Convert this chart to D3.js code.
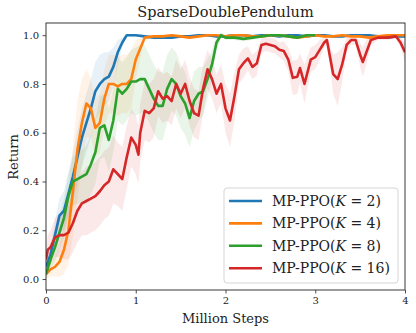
<!DOCTYPE html>
<html>
<head>
<meta charset="utf-8">
<script src="https://cdn.jsdelivr.net/npm/d3@7"></script>
<style>
  body { margin: 0; background: #fff; }
  svg text { font-family: "DejaVu Serif", "Liberation Serif", serif; }
</style>
</head>
<body>
<div id="chart"></div>
<script>
// Data (million steps -> return, band half-width)
var seriesNames = ["2", "4", "8", "16"];
var seriesColors = ["#1f77b4", "#ff7f0e", "#2ca02c", "#d62728"];

var blueX = [0,0.05,0.1,0.15,0.2,0.25,0.3,0.35,0.4,0.45,0.5,0.55,0.6,0.65,0.7,0.75,0.8,0.85,0.9,0.95,1.0,
  1.1,1.2,1.3,1.4,1.5,1.6,1.7,1.8,1.9,2.0,2.1,2.2,2.3,2.4,2.5,2.6,2.7,2.8,2.9,3.0,
  3.1,3.2,3.3,3.4,3.5,3.6,3.7,3.8,3.9,4.0];
var blueY = [0.05,0.10,0.18,0.26,0.28,0.35,0.42,0.50,0.58,0.64,0.70,0.77,0.80,0.82,0.83,0.87,0.93,0.97,1.0,1.0,1.0,
  0.995,0.99,0.99,0.99,0.995,0.995,1.0,1.0,0.995,0.995,
  1.0,1.0,0.995,1.0,1.0,0.995,1.0,1.0,0.995,1.0,
  1.0,0.995,0.995,1.0,1.0,1.0,0.995,0.99,0.995,0.995];
var blueS = [0.02,0.04,0.06,0.07,0.08,0.09,0.1,0.11,0.12,0.12,0.12,0.12,0.12,0.11,0.1,0.08,0.05,0.02,0.005,0.005,0.005,
  0.005,0.005,0.005,0.005,0.005,0.005,0.005,0.005,0.005,0.005,
  0.005,0.005,0.005,0.005,0.005,0.005,0.005,0.005,0.005,0.005,
  0.005,0.005,0.005,0.005,0.005,0.005,0.005,0.005,0.005,0.005];

var orangeX = blueX;
var orangeY = [0.02,0.04,0.05,0.07,0.12,0.20,0.36,0.53,0.64,0.72,0.70,0.62,0.64,0.74,0.80,0.80,0.79,0.80,0.80,0.82,0.90,
  0.99,0.995,0.995,1.0,0.995,0.99,0.995,1.0,1.0,0.995,
  1.0,1.0,0.995,0.995,1.0,1.0,0.995,0.99,0.995,1.0,
  0.995,0.995,1.0,0.995,0.995,0.99,0.995,1.0,1.0,1.0];
var orangeS = [0.02,0.03,0.04,0.06,0.1,0.14,0.18,0.2,0.18,0.14,0.12,0.12,0.12,0.12,0.12,0.12,0.12,0.12,0.12,0.12,0.08,
  0.005,0.005,0.005,0.005,0.005,0.005,0.005,0.005,0.005,0.005,
  0.005,0.005,0.005,0.005,0.005,0.005,0.005,0.005,0.005,0.005,
  0.005,0.005,0.005,0.005,0.005,0.005,0.005,0.005,0.005,0.005];

var greenX = [0,0.05,0.1,0.15,0.2,0.25,0.3,0.35,0.4,0.45,0.5,0.55,0.6,0.65,0.7,0.75,0.8,0.85,0.9,0.95,
  1.0,1.05,1.1,1.15,1.2,1.25,1.3,1.35,1.4,1.45,1.5,1.55,1.6,1.65,1.7,1.75,1.8,1.85,1.9,1.95,
  2.0,2.1,2.2,2.3,2.4,2.5,2.6,2.7,2.8,2.9,3.0];
var greenY = [0.02,0.08,0.13,0.19,0.25,0.34,0.40,0.41,0.42,0.43,0.47,0.52,0.62,0.63,0.57,0.65,0.78,0.76,0.78,0.81,
  0.81,0.82,0.82,0.78,0.74,0.71,0.71,0.78,0.82,0.80,0.75,0.72,0.66,0.73,0.76,0.77,0.82,0.88,0.97,1.0,
  0.99,0.99,0.985,0.99,0.995,1.0,1.0,0.995,0.99,1.0,1.0];
var greenS = [0.02,0.04,0.06,0.07,0.08,0.09,0.1,0.1,0.11,0.12,0.12,0.13,0.13,0.13,0.13,0.13,0.13,0.13,0.13,0.13,
  0.14,0.14,0.14,0.14,0.14,0.14,0.14,0.14,0.13,0.13,0.13,0.13,0.12,0.12,0.11,0.1,0.08,0.06,0.03,0.01,
  0.01,0.01,0.01,0.01,0.005,0.005,0.005,0.005,0.005,0.005,0.005];

var redX = [0,0.02,0.05,0.1,0.15,0.2,0.25,0.3,0.35,0.4,0.45,0.5,0.55,0.6,0.65,0.7,0.75,0.8,0.85,0.9,
  0.95,1.0,1.03,1.05,1.1,1.15,1.2,1.25,1.3,1.35,1.4,1.45,1.5,1.55,1.6,1.65,1.7,1.75,1.8,1.85,
  1.9,1.95,2.0,2.05,2.1,2.15,2.2,2.25,2.3,2.35,2.4,2.45,2.5,2.55,2.6,2.65,2.7,2.75,2.8,2.83,
  2.88,2.95,3.0,3.05,3.1,3.13,3.17,3.2,3.25,3.3,3.35,3.4,3.45,3.5,3.53,3.57,3.62,3.7,3.8,3.9,3.95,4.0];
var redY = [0.08,0.12,0.13,0.17,0.18,0.18,0.19,0.23,0.28,0.31,0.32,0.33,0.34,0.36,0.385,0.40,0.45,0.43,0.41,0.50,
  0.58,0.55,0.51,0.60,0.69,0.68,0.70,0.77,0.74,0.75,0.73,0.80,0.76,0.80,0.73,0.68,0.67,0.78,0.86,0.82,
  0.76,0.80,0.70,0.65,0.75,0.86,0.885,0.905,0.87,0.885,0.96,0.965,0.96,0.955,0.94,0.935,0.90,0.825,0.83,0.865,
  0.80,0.90,0.91,0.94,0.97,0.98,0.90,0.84,0.82,0.88,0.96,0.98,0.98,0.92,0.89,0.93,0.98,0.99,0.99,0.995,0.97,0.93];
var redS = [0.05,0.06,0.07,0.08,0.09,0.10,0.11,0.12,0.13,0.13,0.14,0.14,0.14,0.14,0.14,0.14,0.14,0.13,0.13,0.13,
  0.12,0.12,0.12,0.12,0.12,0.12,0.12,0.1,0.1,0.1,0.1,0.1,0.1,0.1,0.1,0.1,0.1,0.1,0.08,0.08,
  0.08,0.08,0.1,0.11,0.1,0.06,0.06,0.05,0.05,0.05,0.03,0.03,0.03,0.03,0.03,0.04,0.05,0.07,0.07,0.06,
  0.08,0.05,0.05,0.04,0.02,0.02,0.05,0.08,0.11,0.07,0.03,0.02,0.02,0.05,0.06,0.05,0.02,0.01,0.01,0.01,0.02,0.04];

var xTicks = [0, 1, 2, 3, 4];
var yTicks = [0.0, 0.2, 0.4, 0.6, 0.8, 1.0];

var svgWidth = 416;
var svgHeight = 333;
var margins = { top: 23, right: 11, bottom: 43, left: 46 };
var width = svgWidth - margins.left - margins.right;
var height = svgHeight - margins.top - margins.bottom;

var svg = d3.select("#chart")
  .append("svg")
  .attr("width", svgWidth)
  .attr("height", svgHeight);

var chartGroup = svg.append("g")
  .attr("transform", `translate(${margins.left}, ${margins.top})`);

var xScale = d3.scaleLinear().domain([0, 4]).range([0, width]);
var yScale = d3.scaleLinear().domain([-0.045, 1.05]).range([height, 0]);

chartGroup.append("clipPath").attr("id", "clip")
  .append("rect").attr("width", width).attr("height", height);

function pack(xs, ys, ss) {
  return xs.map((x, i) => ({ x: x, y: ys[i], s: ss[i] }));
}
var series = [
  pack(blueX, blueY, blueS),
  pack(orangeX, orangeY, orangeS),
  pack(greenX, greenY, greenS),
  pack(redX, redY, redS)
];

var area = d3.area()
  .x(d => xScale(d.x))
  .y0(d => yScale(d.y - d.s))
  .y1(d => yScale(d.y + d.s));

var line = d3.line()
  .x(d => xScale(d.x))
  .y(d => yScale(d.y));

var plot = chartGroup.append("g").attr("clip-path", "url(#clip)");

series.forEach(function(data, i) {
  plot.append("path")
    .attr("d", area(data))
    .attr("fill", seriesColors[i])
    .attr("fill-opacity", 0.1);
});
series.forEach(function(data, i) {
  plot.append("path")
    .attr("d", line(data))
    .attr("fill", "none")
    .attr("stroke", seriesColors[i])
    .attr("stroke-width", 2.6)
    .attr("stroke-linejoin", "round");
});

// Axes
var bottomAxis = d3.axisBottom(xScale).tickValues(xTicks).tickFormat(d3.format("d"))
  .tickSize(3.5).tickPadding(3.5);
var leftAxis = d3.axisLeft(yScale).tickValues(yTicks).tickFormat(d3.format(".1f"))
  .tickSize(3.5).tickPadding(3.5);

var xg = chartGroup.append("g")
  .attr("transform", `translate(0, ${height})`)
  .call(bottomAxis);
var yg = chartGroup.append("g").call(leftAxis);

[xg, yg].forEach(function(g) {
  g.attr("font-family", null);
  g.select(".domain").remove();
  g.selectAll("line").attr("stroke", "#222").attr("stroke-width", 0.8);
  g.selectAll("text").attr("fill", "#222")
    .style("font-family", "'DejaVu Serif', serif")
    .style("font-size", "10px");
});

chartGroup.append("rect")
  .attr("width", width)
  .attr("height", height)
  .attr("fill", "none")
  .attr("stroke", "#222")
  .attr("stroke-width", 0.9);

// Title and axis names
svg.append("text")
  .attr("x", margins.left + width / 2)
  .attr("y", 17)
  .attr("text-anchor", "middle")
  .style("font-size", "14.5px")
  .attr("fill", "#222")
  .text("SparseDoublePendulum");

svg.append("text")
  .attr("x", margins.left + width / 2)
  .attr("y", 323)
  .attr("text-anchor", "middle")
  .style("font-size", "13px")
  .attr("fill", "#222")
  .text("Million Steps");

svg.append("text")
  .attr("transform", "rotate(-90)")
  .attr("x", -157)
  .attr("y", 18)
  .attr("text-anchor", "middle")
  .style("font-size", "13px")
  .attr("fill", "#222")
  .text("Return");

// Legend
var legend = svg.append("g").attr("transform", "translate(224, 188)");
legend.append("rect")
  .attr("width", 174)
  .attr("height", 95)
  .attr("rx", 3)
  .attr("fill", "#fff")
  .attr("fill-opacity", 0.8)
  .attr("stroke", "#d0d0d0")
  .attr("stroke-width", 0.9);

seriesNames.forEach(function(name, i) {
  var row = legend.append("g").attr("transform", `translate(0, ${13 + i * 22.4})`);
  row.append("line")
    .attr("x1", 5).attr("x2", 38)
    .attr("stroke", seriesColors[i])
    .attr("stroke-width", 2.6);
  var t = row.append("text")
    .attr("x", 48)
    .attr("y", 5)
    .style("font-size", "14px")
    .attr("fill", "#222");
  t.append("tspan").text("MP-PPO(");
  t.append("tspan").style("font-style", "italic").text("K");
  t.append("tspan").text(" = " + name + ")");
});
</script>
</body>
</html>
